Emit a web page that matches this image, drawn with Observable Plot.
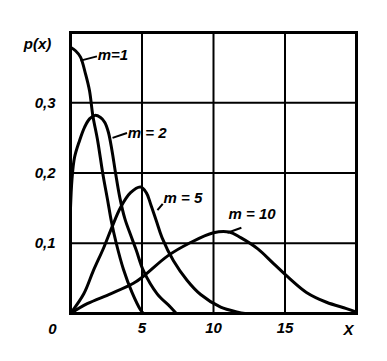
<!DOCTYPE html>
<html>
<head>
<meta charset="utf-8">
<script src="https://cdn.jsdelivr.net/npm/d3@7"></script>
<script src="https://cdn.jsdelivr.net/npm/@observablehq/plot@0.6"></script>
<style>
  html, body { margin: 0; padding: 0; background: #fff; }
  #chart svg { display: block; }
</style>
</head>
<body>
<div id="chart"></div>
<script>
// ---- data ----
const m1x = [0, 0.35, 0.7, 1.05, 1.33, 1.56, 1.9, 2.26, 2.6, 2.85, 3.2, 3.7, 4.3, 4.9, 5.1];
const m1y = [0.379, 0.374, 0.365, 0.341, 0.317, 0.282, 0.246, 0.199, 0.161, 0.132, 0.1, 0.063, 0.03, 0.005, 0];

const m2x = [0, 0.1, 0.28, 0.63, 0.98, 1.33, 1.7, 2.1, 2.4, 2.65, 2.9, 3.15, 3.45, 3.8, 4.2, 4.6, 5.1, 6.06, 7.0, 7.4];
const m2y = [0.15, 0.19, 0.222, 0.246, 0.265, 0.277, 0.282, 0.279, 0.272, 0.258, 0.232, 0.2, 0.165, 0.135, 0.112, 0.09, 0.061, 0.028, 0.009, 0];

const m5x = [0, 0.93, 1.6, 2.33, 2.9, 3.5, 4.2, 4.9, 5.3, 5.6, 6.0, 6.4, 7.2, 8.16, 9.1, 10.5, 11.7, 12.2];
const m5y = [0, 0.028, 0.061, 0.094, 0.123, 0.151, 0.172, 0.18, 0.172, 0.156, 0.132, 0.108, 0.075, 0.047, 0.027, 0.009, 0.002, 0];

const m10x = [0, 1.17, 2.8, 4.4, 5.1, 6.8, 8.3, 10, 11.1, 11.9, 13.1, 14.2, 15.2, 16.5, 17.9, 19.3, 20];
const m10y = [0, 0.014, 0.028, 0.043, 0.053, 0.082, 0.1, 0.115, 0.116, 0.108, 0.092, 0.071, 0.052, 0.030, 0.016, 0.007, 0.002];

const seriesNames = ["m=1", "m = 2", "m = 5", "m = 10"];
const labelX = [1.9, 4.0, 6.5, 11.05];
const labelY = [0.367, 0.256, 0.164, 0.141];
const leadX1 = [0.7, 2.94, 6.08, 10.98];
const leadY1 = [0.36, 0.25, 0.147, 0.115];
const leadX2 = [1.85, 3.95, 6.45, 11.95];
const leadY2 = [0.366, 0.257, 0.156, 0.122];

const xGrid = [5, 10, 15];
const yGrid = [0.1, 0.2, 0.3];
const xTickValues = [5, 10, 15];
const xTickLabels = ["5", "10", "15"];
const yTickValues = [0.1, 0.2, 0.3];
const yTickLabels = ["0,1", "0,2", "0,3"];
const cornerLabels = ["0", "X", "p(x)"];

// ---- build tables ----
const curves = [];
[[m1x, m1y], [m2x, m2y], [m5x, m5y], [m10x, m10y]].forEach(([xs, ys], i) => {
  xs.forEach((x, j) => curves.push({ series: seriesNames[i], x, y: ys[j] }));
});
const labels = seriesNames.map((s, i) => ({ s, x: labelX[i], y: labelY[i] }));
const leaders = seriesNames.map((s, i) => ({ x1: leadX1[i], y1: leadY1[i], x2: leadX2[i], y2: leadY2[i] }));

const font = "'Liberation Sans', 'DejaVu Sans', sans-serif";

const chart = Plot.plot({
  width: 387,
  height: 361,
  marginLeft: 70,
  marginRight: 31,
  marginTop: 32,
  marginBottom: 48,
  style: { fontFamily: font, fontStyle: "italic", fontSize: "15px", fontWeight: "600", color: "#000", background: "#fff" },
  x: { domain: [0, 20] },
  y: { domain: [0, 0.4] },
  marks: [
    Plot.ruleX(xGrid, { stroke: "#000", strokeWidth: 2 }),
    Plot.ruleY(yGrid, { stroke: "#000", strokeWidth: 2 }),
    Plot.frame({ stroke: "#000", strokeWidth: 3 }),
    Plot.line(curves, { x: "x", y: "y", z: "series", curve: "catmull-rom", stroke: "#000", strokeWidth: 3 }),
    Plot.link(leaders, { x1: "x1", y1: "y1", x2: "x2", y2: "y2", stroke: "#000", strokeWidth: 2 }),
    Plot.text(labels, { x: "x", y: "y", text: "s", textAnchor: "start", fontSize: 15, fontStyle: "italic", fontWeight: 600 }),
    Plot.axisX(xTickValues, { tickSize: 0, tickPadding: 9, tickFormat: (d, i) => xTickLabels[i], fontSize: 15, label: null }),
    Plot.axisY(yTickValues, { tickSize: 0, tickPadding: 15, tickFormat: (d, i) => yTickLabels[i], fontSize: 15, label: null }),
    Plot.text([cornerLabels[0]], { x: 0, y: 0, text: d => d, dx: -18, dy: 16, fontSize: 15 }),
    Plot.text([cornerLabels[1]], { x: 20, y: 0, text: d => d, dx: -8, dy: 17, fontSize: 15 }),
    Plot.text([cornerLabels[2]], { x: 0, y: 0.384, text: d => d, dx: -33, fontSize: 15 })
  ]
});
document.getElementById("chart").appendChild(chart);
</script>
</body>
</html>
